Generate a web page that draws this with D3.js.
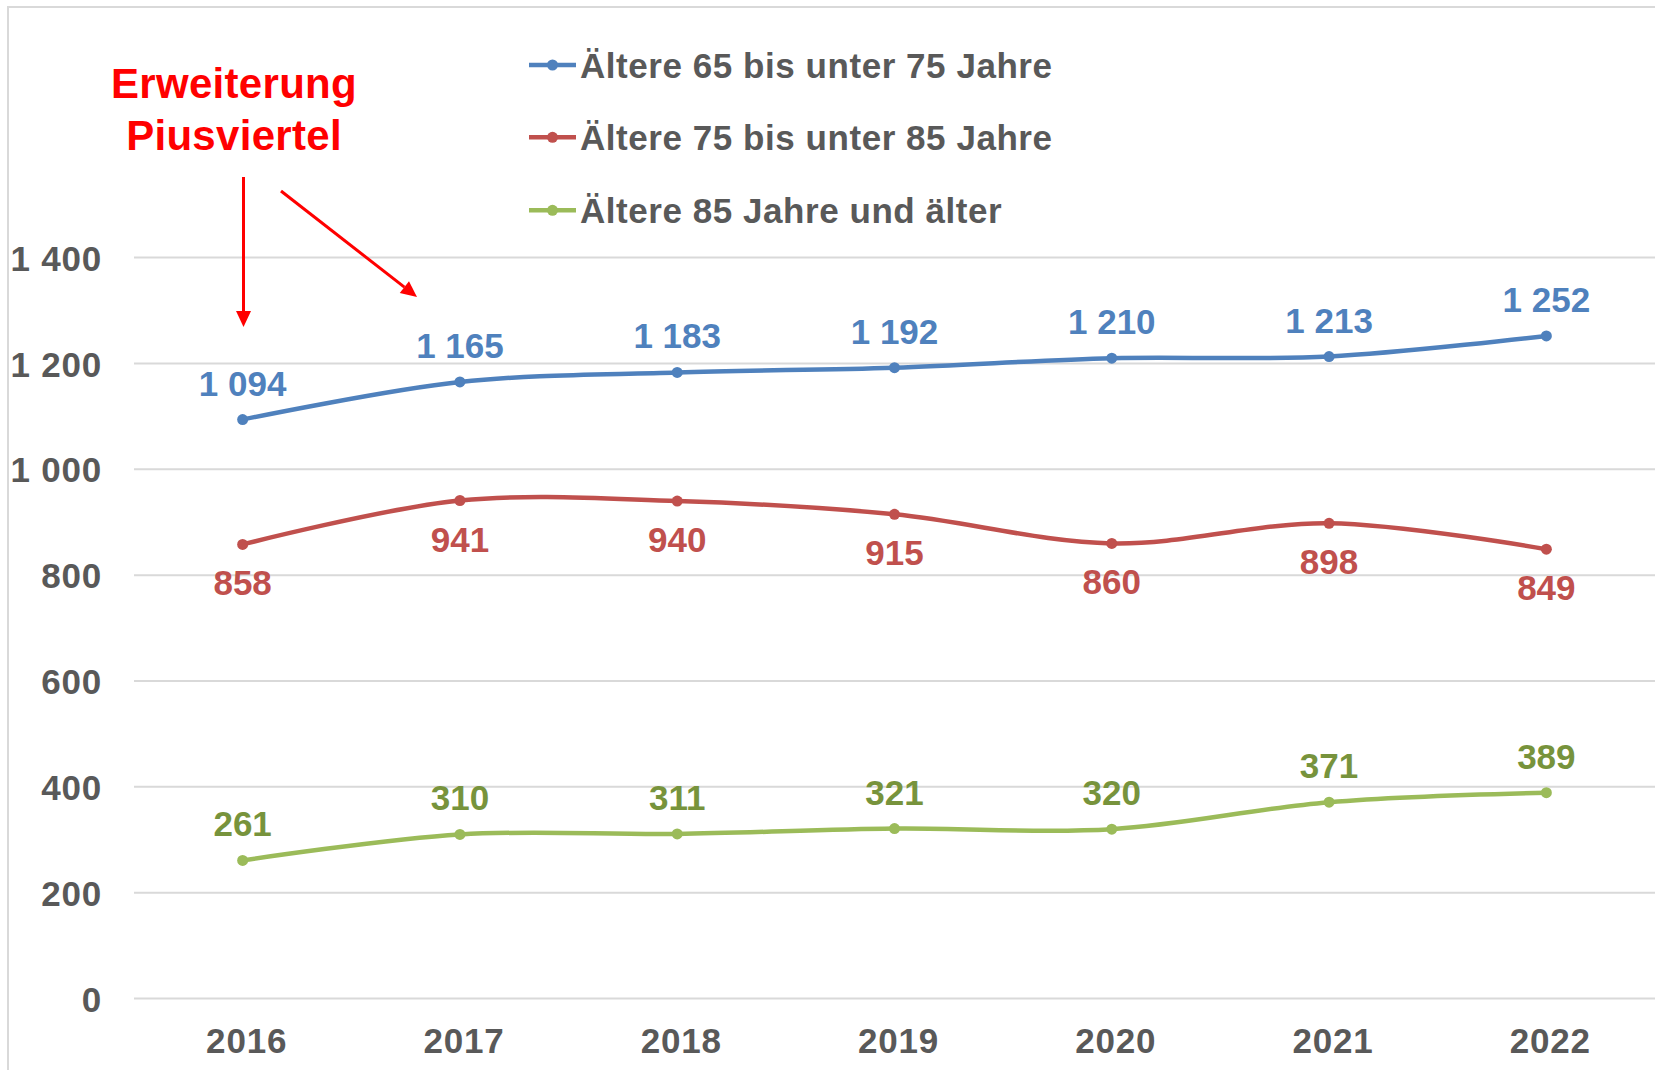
<!DOCTYPE html>
<html>
<head>
<meta charset="utf-8">
<script src="https://cdn.jsdelivr.net/npm/d3@7"></script>
<style>
  html, body { margin: 0; padding: 0; background: #fff; }
  svg { display: block; }
  text { font-family: "Liberation Sans", Arial, sans-serif; font-weight: bold; }
</style>
</head>
<body>
<svg id="chart" width="1655" height="1070"></svg>
<script>
const years = ["2016", "2017", "2018", "2019", "2020", "2021", "2022"];
const seriesNames = ["Ältere 65 bis unter 75 Jahre", "Ältere 75 bis unter 85 Jahre", "Ältere 85 Jahre und älter"];
const values65 = [1094, 1165, 1183, 1192, 1210, 1213, 1252];
const values75 = [858, 941, 940, 915, 860, 898, 849];
const values85 = [261, 310, 311, 321, 320, 371, 389];
const yTicks = [0, 200, 400, 600, 800, 1000, 1200, 1400];
const annotationLines = ["Erweiterung", "Piusviertel"];

const lineColors = ["#4F81BD", "#C0504D", "#9BBB59"];
const labelColors = ["#4F81BD", "#C0504D", "#77933C"];
const textGray = "#595959";
const gridGray = "#D9D9D9";

const series = [
  { name: seriesNames[0], values: values65, lc: lineColors[0], tc: labelColors[0], pos: "above" },
  { name: seriesNames[1], values: values75, lc: lineColors[1], tc: labelColors[1], pos: "below" },
  { name: seriesNames[2], values: values85, lc: lineColors[2], tc: labelColors[2], pos: "above" }
];

const svg = d3.select("#chart");

// outer frame
svg.append("rect").attr("x", 8).attr("y", 7).attr("width", 1700).attr("height", 1100)
  .attr("fill", "none").attr("stroke", gridGray).attr("stroke-width", 2);

const x = d3.scaleBand().domain(years).range([134, 1655]).padding(0);
const cx = d => x(d) + x.bandwidth() / 2;
const y = d3.scaleLinear().domain([0, 1400]).range([998.5, 257.6]);

const loc = d3.formatLocale({ decimal: ",", thousands: " ", grouping: [3], currency: ["", ""] });
const fmt = loc.format(",d");

// gridlines
svg.append("g").selectAll("line").data(yTicks).join("line")
  .attr("x1", 134).attr("x2", 1655)
  .attr("y1", d => y(d)).attr("y2", d => y(d))
  .attr("stroke", gridGray).attr("stroke-width", 2);

// y axis labels
const yAxis = d3.axisLeft(y).tickValues(yTicks).tickFormat(fmt).tickSize(0).tickPadding(0);
const gy = svg.append("g").attr("transform", "translate(102,0)").call(yAxis);
gy.select(".domain").remove();
gy.selectAll("text").attr("font-size", 35).attr("fill", textGray)
  .attr("font-family", "Liberation Sans, Arial, sans-serif").attr("font-weight", "bold")
  .attr("letter-spacing", "0.8px")
  .attr("dy", "0.36em");

// x axis labels
const xAxis = d3.axisBottom(x).tickSize(0).tickPadding(0);
const gx = svg.append("g").attr("transform", "translate(4,1053)").call(xAxis);
gx.select(".domain").remove();
gx.selectAll("text").attr("font-size", 35).attr("fill", textGray)
  .attr("font-family", "Liberation Sans, Arial, sans-serif").attr("font-weight", "bold")
  .attr("letter-spacing", "0.8px")
  .attr("dy", 0).attr("y", 0);

// lines
const line = d3.line().x((d, i) => cx(years[i])).y(d => y(d)).curve(d3.curveCatmullRom.alpha(0.5));

series.forEach(s => {
  const g = svg.append("g");
  g.append("path").attr("d", line(s.values)).attr("fill", "none")
    .attr("stroke", s.lc).attr("stroke-width", 4.5).attr("stroke-linejoin", "round");
  g.selectAll("circle").data(s.values).join("circle")
    .attr("cx", (d, i) => cx(years[i])).attr("cy", d => y(d)).attr("r", 5.5).attr("fill", s.lc);
  g.selectAll("text").data(s.values).join("text")
    .attr("x", (d, i) => cx(years[i]))
    .attr("y", d => s.pos === "above" ? y(d) - 24 : y(d) + 51)
    .attr("text-anchor", "middle").attr("font-size", 35).attr("fill", s.tc)
    .text(d => fmt(d));
});

// legend
const legY = [65, 137.3, 210.3];
series.forEach((s, i) => {
  const g = svg.append("g");
  g.append("line").attr("x1", 529).attr("x2", 576).attr("y1", legY[i]).attr("y2", legY[i])
    .attr("stroke", s.lc).attr("stroke-width", 4.5);
  g.append("circle").attr("cx", 552.5).attr("cy", legY[i]).attr("r", 5.5).attr("fill", s.lc);
  g.append("text").attr("x", 580).attr("y", legY[i] + 12.5).attr("font-size", 35)
    .attr("letter-spacing", "0.55px")
    .attr("fill", textGray).text(s.name);
});

// annotation
const ann = svg.append("g");
ann.selectAll("text").data(annotationLines).join("text")
  .attr("x", 234).attr("y", (d, i) => 98 + i * 52)
  .attr("text-anchor", "middle").attr("font-size", 42).attr("letter-spacing", "0.3px")
  .attr("fill", "#FF0000").text(d => d);

function arrow(x1, y1, x2, y2) {
  const ang = Math.atan2(y2 - y1, x2 - x1);
  const hl = 16, hw = 7.5;
  const bx = x2 - hl * Math.cos(ang), by = y2 - hl * Math.sin(ang);
  ann.append("line").attr("x1", x1).attr("y1", y1).attr("x2", bx).attr("y2", by)
    .attr("stroke", "#FF0000").attr("stroke-width", 3);
  const px = -Math.sin(ang) * hw, py = Math.cos(ang) * hw;
  ann.append("path").attr("d", `M${x2},${y2}L${bx + px},${by + py}L${bx - px},${by - py}Z`).attr("fill", "#FF0000");
}
arrow(243.5, 177, 243.5, 327);
arrow(281, 191, 417, 297);
</script>
</body>
</html>
